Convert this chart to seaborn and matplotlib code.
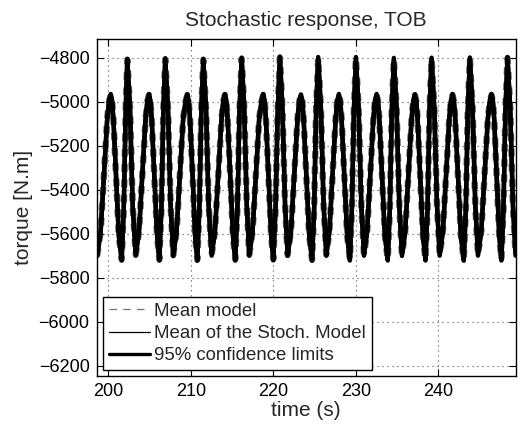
import numpy as np
import pandas as pd
import matplotlib
matplotlib.use('Agg')
import matplotlib.pyplot as plt
import seaborn as sns

sns.set_theme(style='ticks')
plt.rcParams['font.family'] = ['Liberation Sans', 'DejaVu Sans']

# torque response (time in s, torque in N.m)
time_s = [
    198.57, 198.67, 199.07, 199.47, 199.87, 200.09, 200.29, 200.46, 200.62, 200.94,
    201.27, 201.62, 201.87, 202.11, 202.30, 202.63, 202.95,
    203.32, 203.72, 204.12, 204.52, 204.73, 204.93, 205.10, 205.26, 205.58, 205.91,
    206.18, 206.43, 206.67, 206.90, 207.23, 207.55,
    207.87, 208.27, 208.67, 209.07, 209.37, 209.57, 209.74, 209.90, 210.22, 210.52,
    210.78, 211.03, 211.27, 211.51, 211.84, 212.16,
    212.52, 212.92, 213.32, 213.72, 213.93, 214.13, 214.30, 214.46, 214.78, 215.10,
    215.38, 215.64, 215.90, 216.16, 216.47, 216.78,
    217.08, 217.48, 217.88, 218.28, 218.57, 218.77, 218.94, 219.10, 219.42, 219.73,
    219.99, 220.26, 220.53, 220.79, 221.10, 221.42,
    221.73, 222.13, 222.53, 222.93, 223.14, 223.34, 223.51, 223.67, 224.00, 224.34,
    224.69, 224.94, 225.18, 225.43, 225.76, 226.09,
    226.41, 226.79, 227.17, 227.55, 227.74, 227.94, 228.11, 228.27, 228.60, 228.94,
    229.27, 229.51, 229.76, 230.00, 230.33, 230.66,
    230.98, 231.36, 231.74, 232.12, 232.31, 232.51, 232.68, 232.84, 233.17, 233.51,
    233.86, 234.11, 234.35, 234.60, 234.93, 235.26,
    235.58, 235.97, 236.36, 236.75, 236.95, 237.15, 237.32, 237.48, 237.80, 238.12,
    238.43, 238.68, 238.92, 239.17, 239.50, 239.83,
    240.15, 240.54, 240.93, 241.32, 241.51, 241.71, 241.88, 242.04, 242.38, 242.72,
    243.07, 243.32, 243.56, 243.81, 244.14, 244.47,
    244.79, 245.19, 245.59, 245.99, 246.23, 246.43, 246.60, 246.76, 247.07, 247.37,
    247.63, 247.88, 248.12, 248.37, 248.70, 249.03, 249.35, 249.38,
]
torque = [
    -5690, -5695, -5590, -5332, -5076, -4998, -4970, -4998, -5080, -5343,
    -5608, -5717, -5490, -5036, -4810, -5030, -5473,
    -5695, -5590, -5332, -5076, -4998, -4970, -4998, -5080, -5343, -5608,
    -5717, -5490, -5036, -4808, -5030, -5473,
    -5697, -5590, -5332, -5076, -4998, -4971, -4998, -5080, -5343, -5608,
    -5718, -5490, -5036, -4810, -5030, -5473,
    -5695, -5590, -5332, -5076, -4998, -4970, -4998, -5080, -5343, -5608,
    -5717, -5490, -5036, -4805, -5030, -5473,
    -5695, -5590, -5332, -5076, -4998, -4970, -4998, -5080, -5343, -5608,
    -5716, -5490, -5036, -4800, -5030, -5473,
    -5696, -5590, -5332, -5076, -4998, -4972, -4998, -5080, -5343, -5608,
    -5718, -5490, -5036, -4802, -5030, -5473,
    -5695, -5590, -5332, -5076, -4998, -4970, -4998, -5080, -5343, -5608,
    -5717, -5490, -5036, -4802, -5030, -5473,
    -5695, -5590, -5332, -5076, -4998, -4970, -4998, -5080, -5343, -5608,
    -5717, -5490, -5036, -4806, -5030, -5473,
    -5696, -5590, -5332, -5076, -4998, -4971, -4998, -5080, -5343, -5608,
    -5717, -5490, -5036, -4805, -5030, -5473,
    -5695, -5590, -5332, -5076, -4998, -4970, -4998, -5080, -5343, -5608,
    -5718, -5490, -5036, -4804, -5030, -5473,
    -5695, -5590, -5332, -5076, -4998, -4970, -4998, -5080, -5343, -5608,
    -5717, -5490, -5036, -4802, -5030, -5473, -5695, -5694,
]
ci_half = 5  # half width of the 95% band (N.m), barely visible in the reference

x_ticks = [200, 210, 220, 230, 240]
y_ticks = [-6200, -6000, -5800, -5600, -5400, -5200, -5000, -4800]

df = pd.DataFrame({'t': time_s, 'mean': torque})
df['lo'] = df['mean'] - ci_half
df['hi'] = df['mean'] + ci_half

fig = plt.figure(figsize=(5.2, 4.28), dpi=100)
ax = fig.add_axes([0.1856, 0.1215, 0.8064, 0.7874])

# dashed mean model sits underneath the band, as in the reference
sns.lineplot(data=df, x='t', y='mean', ax=ax, color='0.4', linewidth=4.6,
             linestyle=(0, (1.2, 1.2)), label='Mean model', estimator=None,
             sort=False, zorder=2)
sns.lineplot(data=df, x='t', y='lo', ax=ax, color='black', linewidth=3.2,
             label='95% confidence limits', estimator=None, sort=False, zorder=3)
sns.lineplot(data=df, x='t', y='hi', ax=ax, color='black', linewidth=3.2,
             estimator=None, sort=False, zorder=3)
sns.lineplot(data=df, x='t', y='mean', ax=ax, color='black', linewidth=0.8,
             label='Mean of the Stoch. Model', estimator=None, sort=False, zorder=4)
for ln in ax.lines:
    ln.set_solid_joinstyle('round')

ax.set_xlim(198.57, 249.38)
ax.set_ylim(-6247, -4715)
ax.set_xticks(x_ticks)
ax.set_yticks(y_ticks)
ax.set_yticklabels([f'\u2212{abs(v)}' for v in y_ticks])
ax.grid(True, color='0.3', linestyle=(0, (1, 3.5)), linewidth=0.8)
ax.tick_params(direction='in', top=True, right=True, length=5, width=0.8,
               labelsize=13, colors='black', pad=5)
for s in ax.spines.values():
    s.set_color('black')
    s.set_linewidth(1.0)

ax.set_title('Stochastic response, TOB', fontsize=15, pad=9)
ax.set_xlabel('time (s)', fontsize=15, labelpad=1)
ax.set_ylabel('torque [N.m]', fontsize=15, labelpad=4)

h, l = ax.get_legend_handles_labels()
order = [l.index('Mean model'), l.index('Mean of the Stoch. Model'),
         l.index('95% confidence limits')]
leg = ax.legend([h[i] for i in order], [l[i] for i in order],
                loc='lower left', bbox_to_anchor=(0.0155, 0.0178),
                borderaxespad=0, fontsize=13.4, fancybox=False, framealpha=1,
                edgecolor='black', handlelength=2.2, handletextpad=0.25,
                labelspacing=0.28, borderpad=0.3)
leg.get_frame().set_linewidth(1.0)
# legend keys: thin grey dashes, thin solid, thick solid
leg_lines = leg.get_lines()
leg_lines[0].set_linewidth(0.9)
leg_lines[0].set_linestyle((0, (6, 5)))
leg_lines[0].set_color('0.45')
leg_lines[1].set_linewidth(0.9)
leg_lines[2].set_linewidth(2.4)

fig.savefig('out.png', dpi=100)
